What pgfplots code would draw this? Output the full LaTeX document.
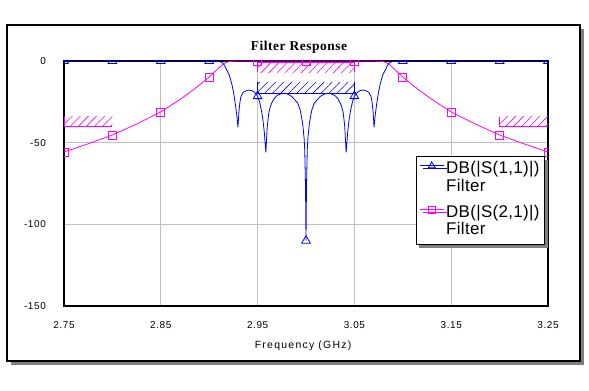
\documentclass[border=0pt]{standalone}
\usepackage{fontspec}
\setmainfont{Liberation Sans}
\newfontfamily\tickfont[LetterSpace=6]{Liberation Sans}
\newfontfamily\labfont[LetterSpace=12]{Liberation Sans}
\newfontfamily\titlefont[LetterSpace=4]{Liberation Serif}
\newfontfamily\legfont[LetterSpace=2]{Liberation Sans}
\usepackage{pgfplots}
\pgfplotsset{compat=1.18}
\usetikzlibrary{patterns.meta,shadows}
\definecolor{awrblue}{RGB}{0,0,255}
\definecolor{awrmag}{RGB}{255,0,255}
\definecolor{gridgray}{RGB}{192,192,192}
\definecolor{shadowgray}{RGB}{128,128,128}

\pgfplotstableread{
f db
2.750 -55.7
2.775 -50.7
2.800 -45.3
2.825 -38.6
2.850 -31.2
2.870 -23.5
2.880 -19.2
2.890 -14.7
2.900 -9.8
2.905 -7.0
2.910 -4.2
2.913 -2.6
2.915 -1.7
2.918 -0.8
2.920 -0.4
2.925 -0.1
2.930 -0.03
2.950 -0.02
3.000 -0.02
3.050 -0.02
3.070 -0.03
3.075 -0.1
3.080 -0.4
3.082 -0.8
3.085 -1.7
3.087 -2.6
3.090 -4.2
3.095 -7.0
3.100 -9.8
3.110 -14.7
3.120 -19.2
3.130 -23.5
3.150 -31.2
3.175 -38.6
3.200 -45.3
3.225 -50.7
3.250 -55.7
}\stwoone

\pgfplotstableread{
f db
2.750 0
2.900 -0.02
2.905 -0.08
2.910 -0.3
2.912 -0.6
2.914 -1.2
2.916 -2.8
2.9173 -4.5
2.919 -6.5
2.9207 -8.6
2.9232 -13.7
2.9253 -19.8
2.9269 -25.9
2.9287 -34.1
2.9297 -40.6
2.9307 -31
2.9318 -25
2.9328 -21.8
2.935 -19.3
2.9363 -18.8
2.939 -18.0
2.9414 -17.8
2.944 -18.1
2.947 -19.2
2.950 -21.5
2.952 -25
2.954 -30.5
2.9555 -36
2.957 -44
2.9585 -56
2.960 -40
2.9615 -32
2.9631 -28
2.965 -25.2
2.9673 -22.9
2.970 -21.2
2.974 -20.1
2.9776 -19.8
2.981 -20.2
2.985 -21.6
2.988 -23.4
2.9914 -25.8
2.994 -30
2.9965 -38
2.998 -47
2.9987 -54.5
2.9995 -77
3.000 -110
3.0005 -77
3.0013 -54.5
3.002 -47
3.0035 -38
3.006 -30
3.0086 -25.8
3.012 -23.4
3.015 -21.6
3.019 -20.2
3.0224 -19.8
3.026 -20.1
3.030 -21.2
3.0327 -22.9
3.035 -25.2
3.0369 -28
3.0385 -32
3.040 -40
3.0415 -56
3.043 -44
3.0445 -36
3.046 -30.5
3.048 -25
3.050 -21.5
3.053 -19.2
3.056 -18.1
3.0586 -17.8
3.061 -18.0
3.0637 -18.8
3.065 -19.3
3.0672 -21.8
3.0682 -25
3.0693 -31
3.0703 -40.6
3.0713 -34.1
3.0731 -25.9
3.0747 -19.8
3.0768 -13.7
3.0793 -8.6
3.081 -6.5
3.0827 -4.5
3.084 -2.8
3.086 -1.2
3.088 -0.6
3.090 -0.3
3.095 -0.08
3.100 -0.02
3.250 0
}\soneone

\begin{document}
\begin{tikzpicture}[x=1bp,y=1bp]
\path[use as bounding box] (0,0) rectangle (589,390);
\fill[shadowgray] (10.5,25) rectangle (584,361.5);
\filldraw[fill=white,draw=black,line width=1.3bp] (7,29) rectangle (580,365);
\begin{axis}[
  at={(64bp,84bp)}, anchor=south west,
  width=484bp, height=245bp, scale only axis,
  xmin=2.75, xmax=3.25, ymin=-150, ymax=0,
  xtick={2.75,2.85,2.95,3.05,3.15,3.25},
  xticklabels={2.75,2.85,2.95,3.05,3.15,3.25},
  ytick={-150,-100,-50,0},
  yticklabels={-150,-100,-50,0},
  major tick length=0pt,
  grid=major,
  major grid style={gridgray, line width=0.8bp},
  axis line style={black, line width=1.3bp},
  tick label style={font=\tickfont\fontsize{10}{12}\selectfont},
  xticklabel style={anchor=north, inner sep=0pt, yshift=-15bp},
  yticklabel style={anchor=east, inner sep=0pt, xshift=-18bp},
  title={Filter Response},
  title style={font=\titlefont\bfseries\fontsize{13.5}{15}\selectfont, at={(axis description cs:0.4855,1.03)}, anchor=center, inner sep=0pt, yshift=0pt},
  xlabel={Frequency (GHz)},
  xlabel style={font=\labfont\fontsize{10.5}{12}\selectfont, at={(axis description cs:0.494,-0.162)}, anchor=center, inner sep=0pt},
  clip marker paths=true,
  legend style={at={(axis description cs:0.994,0.612)}, anchor=north east, draw=black, line width=1bp, fill=white, font=\legfont\fontsize{17}{17}\selectfont, inner xsep=3bp, inner ysep=3bp, row sep=5bp, nodes={inner sep=2bp, text depth=}, cells={anchor=base west}, drop shadow={shadow xshift=3bp, shadow yshift=-3bp, fill=shadowgray, opacity=1}},
  legend image code/.code={\draw[mark repeat=2,mark phase=2] plot coordinates {(0bp,8bp)(12bp,8bp)(24bp,8bp)};},
]
% spec hatching
\addplot[draw=none, pattern={Lines[angle=45,distance=5.7bp,line width=0.6bp]}, pattern color=awrmag, forget plot] coordinates {(2.95,-1) (3.05,-1) (3.05,-7) (2.95,-7)};
\addplot[draw=none, pattern={Lines[angle=45,distance=5.7bp,line width=0.6bp]}, pattern color=awrblue, forget plot] coordinates {(2.95,-20) (3.05,-20) (3.05,-13) (2.95,-13)};
\addplot[draw=none, pattern={Lines[angle=45,distance=5.7bp,line width=0.6bp]}, pattern color=awrmag, forget plot] coordinates {(2.75,-40) (2.80,-40) (2.80,-34) (2.75,-34)};
\addplot[draw=none, pattern={Lines[angle=45,distance=5.7bp,line width=0.6bp]}, pattern color=awrmag, forget plot] coordinates {(3.20,-40) (3.25,-40) (3.25,-34) (3.20,-34)};
\addplot[awrmag, line width=0.8bp, forget plot] coordinates {(2.95,-7) (2.95,-1) (3.05,-1) (3.05,-7)};
\addplot[awrblue, line width=0.8bp, forget plot] coordinates {(2.95,-13) (2.95,-20) (3.05,-20) (3.05,-13)};
\addplot[awrmag, line width=0.8bp, forget plot] coordinates {(2.75,-34) (2.75,-40) (2.80,-40)};
\addplot[awrmag, line width=0.8bp, forget plot] coordinates {(3.20,-34) (3.20,-40) (3.25,-40)};
% curves
\addplot[awrmag, line width=0.8bp, forget plot] table[x=f,y=db] {\stwoone};
\addplot[awrblue, line width=0.8bp, forget plot] table[x=f,y=db] {\soneone};
% markers
\addplot[only marks, mark=square, mark size=4bp, awrmag, mark options={line width=0.8bp, fill=none}, forget plot] coordinates {(2.75,-55.7) (2.80,-45.3) (2.85,-31.2) (2.90,-9.8) (2.95,-0.02) (3.00,-0.02) (3.05,-0.02) (3.10,-9.8) (3.15,-31.2) (3.20,-45.3) (3.25,-55.7)};
\addplot[only marks, mark=triangle, mark size=5bp, awrblue, mark options={line width=0.8bp, fill=none}, forget plot] coordinates {(2.75,0) (2.80,0) (2.85,0) (2.90,-0.02) (2.95,-21.5) (3.00,-110) (3.05,-21.5) (3.10,-0.02) (3.15,0) (3.20,0) (3.25,0)};
% legend
\addlegendimage{awrblue, line width=0.8bp, mark=triangle, mark size=4bp, mark options={solid, fill=none}}
\addlegendentry{\begin{tabular}[t]{@{}l@{}}DB(|S(1,1)|)\\Filter\end{tabular}}
\addlegendimage{awrmag, line width=0.8bp, mark=square, mark size=3.5bp, mark options={solid, fill=none}}
\addlegendentry{\begin{tabular}[t]{@{}l@{}}DB(|S(2,1)|)\\Filter\end{tabular}}
\end{axis}
\end{tikzpicture}
\end{document}
